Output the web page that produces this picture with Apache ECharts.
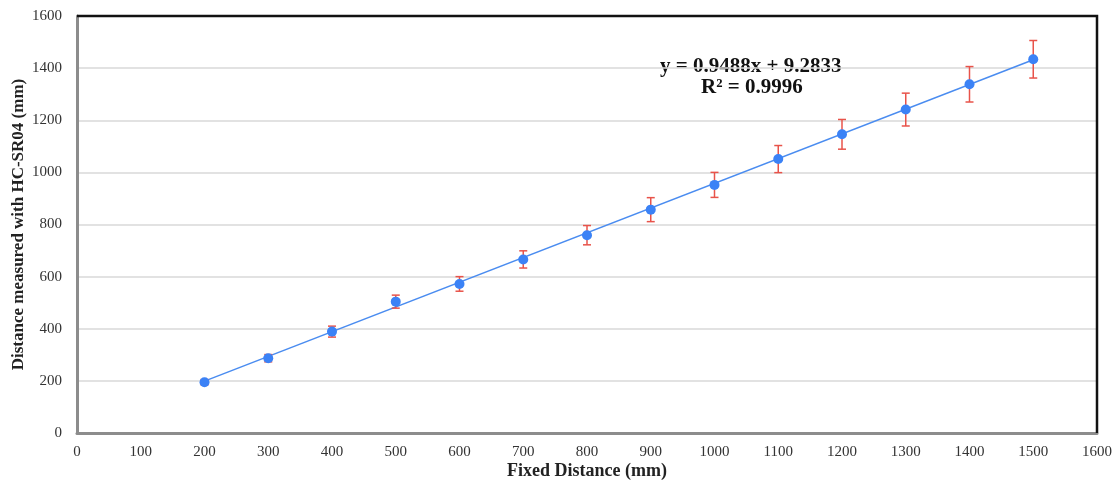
<!DOCTYPE html>
<html>
<head>
<meta charset="utf-8">
<script src="https://cdn.jsdelivr.net/npm/echarts@6/dist/echarts.min.js"></script>
<style>
  html, body { margin: 0; padding: 0; background: #fff; }
  #chart { width: 1114px; height: 481px; }
</style>
</head>
<body>
<div id="chart"></div>
<script>
// 固定距离 (mm)
const fixedDistance = [200, 300, 400, 500, 600, 700, 800, 900, 1000, 1100, 1200, 1300, 1400, 1500]
// HC-SR04 测量值 (mm)
const measured = [195, 287, 389, 504, 572, 666, 759, 857, 952, 1051, 1146, 1241, 1338, 1434]
// 误差 (±mm)
const errorSize = [10, 14, 21, 25, 28, 33, 37, 46, 48, 52, 57, 63, 68, 72]
// 趋势线端点
const trendPoints = [[200, 199], [1500, 1432]]
const trendText = ['y = 0.9488x + 9.2833', 'R² = 0.9996']

const serif = '"Liberation Serif", "DejaVu Serif", serif'

let myChart = echarts.init(document.getElementById('chart'))

const scatterData = fixedDistance.map((x, i) => [x, measured[i]])
const errorData = fixedDistance.map((x, i) => [x, measured[i] - errorSize[i], measured[i] + errorSize[i]])

const options = {
    backgroundColor: '#fff',
    animation: false,
    grid: {
        left: 77,
        right: 17,
        top: 16,
        bottom: 48,
        show: false,
        outerBoundsMode: 'none',
        containLabel: false
    },
    xAxis: {
        type: 'value',
        min: 0,
        max: 1600,
        interval: 100,
        name: 'Fixed Distance (mm)',
        nameLocation: 'middle',
        nameGap: 29,
        nameMoveOverlap: false,
        nameTextStyle: { fontFamily: serif, fontWeight: 'bold', fontSize: 18, color: '#222' },
        axisLine: { show: true, lineStyle: { color: '#8c8c8c', width: 3 } },
        axisTick: { show: false },
        axisLabel: { fontFamily: serif, fontSize: 15, color: '#333', margin: 12, formatter: v => String(v) },
        splitLine: { show: false }
    },
    yAxis: {
        type: 'value',
        min: 0,
        max: 1600,
        interval: 200,
        name: 'Distance measured with HC-SR04 (mm)',
        nameLocation: 'middle',
        nameGap: 50,
        nameMoveOverlap: false,
        nameTextStyle: { fontFamily: serif, fontWeight: 'bold', fontSize: 17, color: '#222' },
        axisLine: { show: true, lineStyle: { color: '#8c8c8c', width: 3 } },
        axisTick: { show: false },
        axisLabel: { fontFamily: serif, fontSize: 15, color: '#333', margin: 15, formatter: v => String(v) },
        splitLine: { show: true, lineStyle: { color: '#d9d9d9', width: 1.5 } }
    },
    graphic: [
        // 图框上边和右边
        {
            type: 'polyline',
            shape: { points: [[77, 16], [1097, 16], [1097, 433]] },
            style: { stroke: '#111', lineWidth: 2.5, fill: null },
            z: 10
        },
        {
            type: 'text',
            left: 660,
            top: 56,
            style: { text: trendText[0], font: 'bold 21px ' + serif, fill: '#111' }
        },
        {
            type: 'text',
            left: 701,
            top: 77,
            style: { text: trendText[1], font: 'bold 21px ' + serif, fill: '#111' }
        }
    ],
    series: [
        {
            name: 'trend',
            type: 'line',
            data: trendPoints,
            symbol: 'none',
            lineStyle: { color: '#4a8cf0', width: 1.5 },
            z: 2
        },
        {
            name: 'error',
            type: 'custom',
            data: errorData,
            renderItem: (params, api) => {
                const x = api.value(0)
                const lo = api.coord([x, api.value(1)])
                const hi = api.coord([x, api.value(2)])
                const half = 4
                const style = { stroke: '#e8534a', lineWidth: 1.5 }
                return {
                    type: 'group',
                    children: [
                        { type: 'line', shape: { x1: lo[0], y1: lo[1], x2: hi[0], y2: hi[1] }, style },
                        { type: 'line', shape: { x1: hi[0] - half, y1: hi[1], x2: hi[0] + half, y2: hi[1] }, style },
                        { type: 'line', shape: { x1: lo[0] - half, y1: lo[1], x2: lo[0] + half, y2: lo[1] }, style }
                    ]
                }
            },
            z: 3
        },
        {
            name: 'measured',
            type: 'scatter',
            data: scatterData,
            symbolSize: 10,
            itemStyle: { color: '#3b82f6', opacity: 1 },
            z: 4
        }
    ]
}
myChart.setOption(options)
</script>
</body>
</html>
